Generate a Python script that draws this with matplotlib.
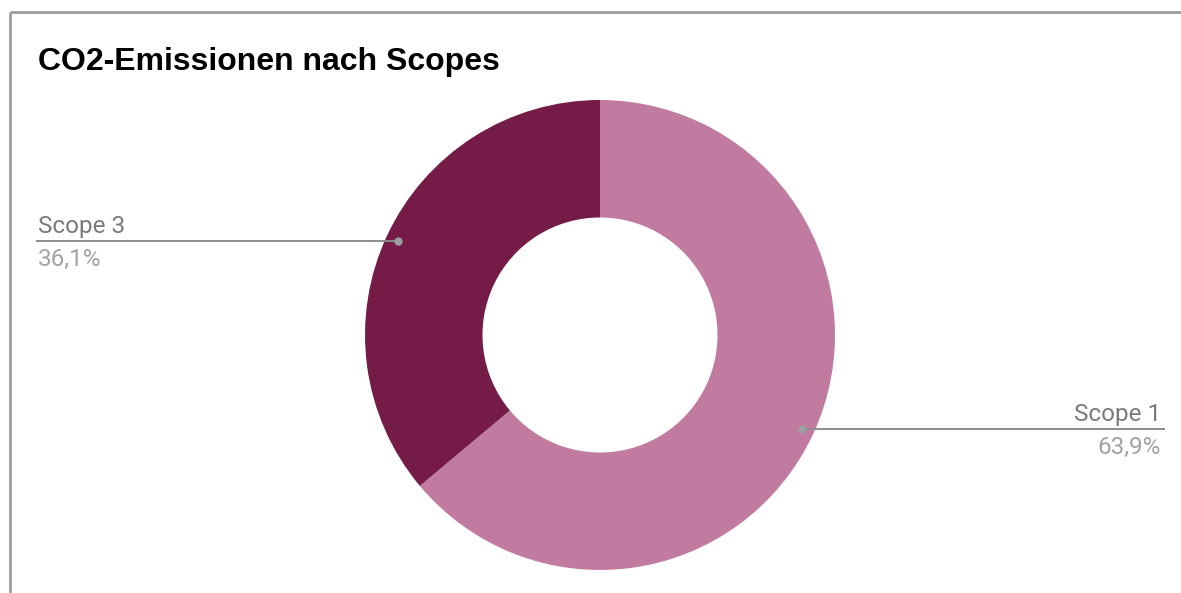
import numpy as np
from matplotlib import pyplot as plt

# daten
labels = ['Scope 1', 'Scope 3']
werte = [63.9, 36.1]
prozent = ['63,9%', '36,1%']
farben = ['#c27ba0', '#741b47']

W, H = 1181, 593
fig = plt.figure(figsize=(W / 100, H / 100), dpi=100)
ax = fig.add_axes([0, 0, 1, 1])

# rahmen (nur oben und links sichtbar)
ax.plot([10, 10], [0, H - 12], color='#9e9e9e', lw=2, solid_capstyle='butt')
ax.plot([10, W], [H - 12, H - 12], color='#9e9e9e', lw=2, solid_capstyle='butt')

cx, cy, r = 600, H - 335, 235
wedges, _ = ax.pie(werte, colors=farben, startangle=90, counterclock=False,
                   center=(cx, cy), radius=r, frame=True,
                   wedgeprops=dict(width=r / 2, linewidth=0))
ax.set_xlim(0, W)
ax.set_ylim(0, H)
ax.set_aspect('auto')
ax.axis('off')

ax.text(38, H - 70, 'CO2-Emissionen nach Scopes', fontsize=23, fontweight='bold',
        family='Liberation Sans', color='#000000', va='baseline', ha='left')

for w, lab, p in zip(wedges, labels, prozent):
    mid = np.deg2rad((w.theta1 + w.theta2) / 2)
    px = cx + 0.95 * r * np.cos(mid)
    py = cy + 0.95 * r * np.sin(mid)
    if px > cx:
        x_end = 1164
        ha = 'right'
        tx = 1161
    else:
        x_end = 37
        ha = 'left'
        tx = 38
    ax.plot([px, x_end], [py, py], color='#8c8c8c', lw=1.4)
    ax.plot(px, py, 'o', color='#9e9e9e', ms=6, mec='none')
    ax.text(tx, py + 8, lab, fontsize=17.5, family='Roboto', color='#7a7a7a',
            ha=ha, va='baseline')
    ax.text(tx, py - 25, p, fontsize=17.5, family='Roboto', color='#a3a3a3',
            ha=ha, va='baseline')

fig.savefig('out.png', dpi=100, facecolor='white')
